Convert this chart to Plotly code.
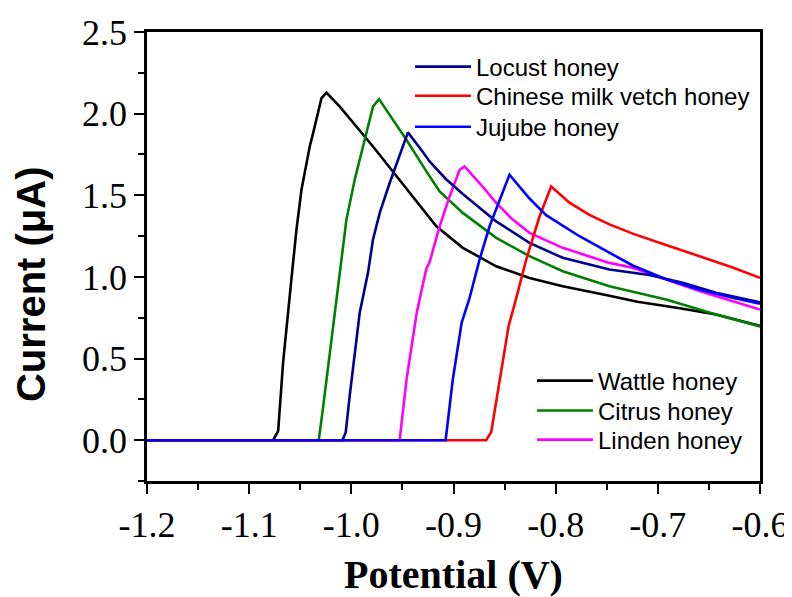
import plotly.graph_objects as go

# ---- data (potential in V, current in uA) ----
wattle_x = [-1.2, -1.0765, -1.0716, -1.0668, -1.0586, -1.0537, -1.0488, -1.0407, -1.0374, -1.0292, -1.0243,
            -1.0113, -0.9788, -0.9461, -0.9168, -0.8909, -0.8582, -0.8256, -0.7931, -0.7474, -0.72, -0.68,
            -0.643, -0.6]
wattle_y = [0.0, 0.0, 0.057, 0.475, 0.99, 1.29, 1.534, 1.799, 1.881, 2.095, 2.129,
            2.043, 1.799, 1.54, 1.31, 1.178, 1.065, 0.994, 0.943, 0.885, 0.848, 0.81,
            0.77, 0.70]

citrus_x = [-1.2, -1.0319, -1.0283, -1.0211, -1.0113, -1.0048, -0.9967, -0.9869, -0.9788, -0.9729,
            -0.9592, -0.9461, -0.9234, -0.9136, -0.8909, -0.8582, -0.8256, -0.7931, -0.7474, -0.692,
            -0.643, -0.6]
citrus_y = [0.0, 0.0, 0.169, 0.536, 1.045, 1.351, 1.595, 1.84, 2.043, 2.089,
            1.962, 1.84, 1.616, 1.524, 1.392, 1.239, 1.127, 1.035, 0.943, 0.862,
            0.77, 0.697]

linden_x = [-1.2, -0.9527, -0.946, -0.936, -0.9266, -0.9234, -0.9136, -0.9038, -0.894, -0.8892,
            -0.8745, -0.8582, -0.842, -0.8256, -0.7931, -0.7474, -0.7246, -0.692, -0.6594, -0.6]
linden_y = [0.0, 0.0, 0.37, 0.78, 1.05, 1.09, 1.31, 1.493, 1.656, 1.677,
            1.575, 1.453, 1.351, 1.27, 1.178, 1.086, 1.056, 0.984, 0.913, 0.80]

locust_x = [-1.2, -1.0087, -1.0055, -1.0016, -0.9918, -0.9837, -0.9788, -0.9722, -0.9625, -0.9527,
            -0.9446, -0.93, -0.9234, -0.9075, -0.8909, -0.8582, -0.8256, -0.7931, -0.7474,
            -0.7083, -0.6757, -0.643, -0.6]
locust_y = [0.0, 0.0, 0.047, 0.271, 0.78, 1.025, 1.229, 1.392, 1.575, 1.738,
            1.885, 1.765, 1.707, 1.60, 1.508, 1.34, 1.208, 1.117, 1.045,
            1.012, 0.964, 0.903, 0.845]

vetch_x = [-1.2, -0.868, -0.8631, -0.855, -0.846, -0.8386, -0.8288, -0.8158, -0.8044, -0.7865,
           -0.767, -0.7474, -0.7246, -0.692, -0.6594, -0.6268, -0.6]
vetch_y = [0.0, 0.0, 0.05, 0.36, 0.70, 0.87, 1.106, 1.37, 1.554, 1.455,
           1.38, 1.322, 1.265, 1.196, 1.127, 1.058, 0.994]

jujube_x = [-1.2, -0.9077, -0.9007, -0.892, -0.8843, -0.8745, -0.8647, -0.855, -0.8452, -0.8256,
            -0.8093, -0.7767, -0.7474, -0.7246, -0.692, -0.6594, -0.6268, -0.6]
jujube_y = [0.0, 0.0, 0.37, 0.72, 0.87, 1.106, 1.31, 1.473, 1.626, 1.48,
            1.378, 1.249, 1.147, 1.07, 0.986, 0.923, 0.872, 0.835]

x_ticks = [-1.2, -1.1, -1.0, -0.9, -0.8, -0.7, -0.6]
y_ticks = [0.0, 0.5, 1.0, 1.5, 2.0, 2.5]

# name, x, y, colour, legend id, legend x (paper), legend y (paper)
series = [
    ("Wattle honey", wattle_x, wattle_y, "#000000", "legend4", 0.628, 0.2227),
    ("Citrus honey", citrus_x, citrus_y, "#008000", "legend5", 0.628, 0.156),
    ("Linden honey", linden_x, linden_y, "#FF00FF", "legend6", 0.628, 0.0913),
    ("Locust honey", locust_x, locust_y, "#000090", "legend", 0.429, 0.922),
    ("Chinese milk vetch honey", vetch_x, vetch_y, "#FF0000", "legend2", 0.429, 0.857),
    ("Jujube honey", jujube_x, jujube_y, "#0000FF", "legend3", 0.429, 0.788),
]

fig = go.Figure()
legends = {}
for name, xs, ys, col, lg, lx, ly in series:
    fig.add_trace(go.Scatter(x=xs, y=ys, mode="lines", name=name,
                             line=dict(color=col, width=2.6), legend=lg))
    legends[lg] = dict(x=lx, y=ly, xanchor="left", yanchor="middle",
                       font=dict(family="Liberation Sans, Arial", size=24, color="black"),
                       bgcolor="rgba(0,0,0,0)", borderwidth=0, itemwidth=56)

serif = "Liberation Serif, Times New Roman"

fig.update_layout(
    width=784, height=589,
    margin=dict(l=139, r=32, t=24, b=116, autoexpand=False),
    paper_bgcolor="white", plot_bgcolor="white",
    showlegend=True,
    xaxis=dict(
        range=[-1.2, -0.6], tickvals=x_ticks, ticktext=[f"{v:.1f}" for v in x_ticks],
        showgrid=False, zeroline=False, automargin=False,
        showline=True, linecolor="black", linewidth=2.5, mirror=True,
        ticks="outside", ticklen=10, tickwidth=2, tickcolor="black",
        minor=dict(dtick=0.05, tick0=-1.2, ticks="outside", ticklen=6, tickwidth=2, tickcolor="black"),
        tickfont=dict(family=serif, size=36, color="black"),
        title=dict(text="Potential (V)", standoff=18,
                   font=dict(family=serif, size=40, color="black", weight="bold")),
    ),
    yaxis=dict(
        range=[-0.25, 2.5], tickvals=y_ticks, ticktext=[f"{v:.1f}" for v in y_ticks],
        showgrid=False, zeroline=False, automargin=False,
        showline=True, linecolor="black", linewidth=2.5, mirror=True,
        ticks="outside", ticklen=10, tickwidth=2, tickcolor="black",
        minor=dict(dtick=0.25, tick0=0, ticks="outside", ticklen=6, tickwidth=2, tickcolor="black"),
        tickfont=dict(family=serif, size=36, color="black"),
    ),
    annotations=[dict(
        text="Current (\u03bcA)", xref="paper", yref="paper", x=-0.189, y=0.439,
        xanchor="center", yanchor="middle", textangle=-90, showarrow=False,
        font=dict(family="Liberation Sans, Arial", size=40, color="black", weight="bold"),
    )],
    **legends,
)

fig.write_html("out.html")
